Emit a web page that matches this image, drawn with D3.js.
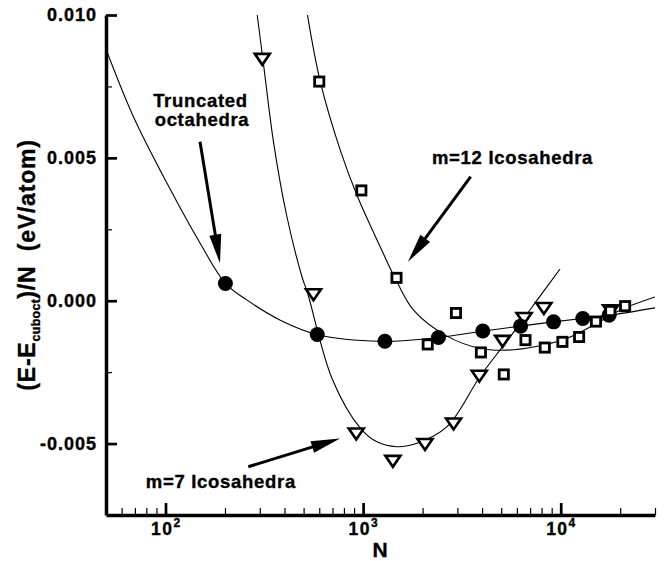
<!DOCTYPE html>
<html>
<head>
<meta charset="utf-8">
<script src="https://cdn.jsdelivr.net/npm/d3@7"></script>
<style>
  body { margin: 0; background: #fff; }
  svg { display: block; }
  text { font-family: "Liberation Sans", Arial, Helvetica, sans-serif; font-weight: bold; fill: #000; stroke: #000; stroke-width: 0.35px; }
</style>
</head>
<body>
<svg width="666" height="561"></svg>
<script>
// truncated octahedra (filled circles)
const octaN = [201, 586, 1289, 2406, 4033, 6266, 9201, 12934, 17561];
const octaE = [0.00060, -0.00118, -0.00142, -0.00129, -0.00106, -0.00089, -0.00074, -0.00062, -0.00051];

// m=7 icosahedra (open triangles)
const ico7N = [309, 561, 923, 1415, 2057, 2869, 3871, 5083, 6525, 8217, 17885];
const ico7E = [0.00843, 0.00019, -0.00468, -0.00564, -0.00505, -0.00433, -0.00266, -0.00144, -0.00064, -0.00029, -0.00037];

// m=12 icosahedra (open squares)
const ico12N = [600, 980, 1476, 2123, 2951, 3946, 5152, 6633, 8305, 10200, 12390, 15080, 17820, 21180];
const ico12E = [0.00767, 0.00386, 0.00080, -0.00153, -0.00043, -0.00181, -0.00258, -0.00138, -0.00164, -0.00144, -0.00127, -0.00073, -0.00036, -0.00019];

// fitted curves
const octaFitN = [50, 69, 102, 150, 201, 259, 381, 585, 1222, 2399, 4006, 6237, 9155, 12840, 17580, 30000];
const octaFitE = [0.0088, 0.00642, 0.00410, 0.00200, 0.00061, 0.00002, -0.00068, -0.00118, -0.00142, -0.00129, -0.00107, -0.00089, -0.00074, -0.00062, -0.00051, -0.00025];
const ico7FitN = [290, 314, 353, 412, 491, 524, 696, 968, 1175, 1483, 1874, 2657, 3900, 5105, 6226, 7859, 9923];
const ico7FitE = [0.0101, 0.00823, 0.00550, 0.00293, 0.00083, 0.00026, -0.00272, -0.00446, -0.00494, -0.00511, -0.00499, -0.00441, -0.00266, -0.00159, -0.00080, 0.00016, 0.00111];
const ico12FitN = [520, 608, 767, 931, 1222, 1483, 1800, 2657, 3917, 5340, 7280, 10740, 14630, 19950, 30000];
const ico12FitE = [0.0101, 0.00765, 0.00526, 0.00369, 0.00188, 0.00066, -0.00033, -0.00124, -0.00167, -0.00173, -0.00162, -0.00132, -0.00086, -0.00033, 0.00013];

// axes
const xMajorTicks = [100, 1000, 10000];
const xMajorExp = ["2", "3", "4"];
const yMajorTicks = [-0.005, 0, 0.005, 0.010];
const yMinorTicks = [-0.0025, 0.0025, 0.0075];

// annotations
const noteText = ["Truncated", "octahedra", "m=12 Icosahedra", "m=7 Icosahedra"];
const noteN = [150.4, 153, 5702, 190.6];
const noteE = [0.00678, 0.00610, 0.00480, -0.00657];
const arrowFromN = [149.5, 3504, 262.4];
const arrowFromE = [0.005565, 0.00434, -0.00581];
const arrowToN = [188.7, 1687, 764];
const arrowToE = [0.00131, 0.001365, -0.00482];

const svg = d3.select('svg');
const padL = 106, padR = 655, padT = 15, padB = 515;

const x = d3.scaleLog().domain([50, 30000]).range([padL, padR]);
const y = d3.scaleLinear().domain([-0.0075, 0.010]).range([padB, padT]);

svg.append('defs').append('clipPath').attr('id', 'plot')
  .append('rect').attr('x', padL).attr('y', padT)
  .attr('width', padR - padL).attr('height', padB - padT);

// curves
const line = d3.line().x(d => x(d[0])).y(d => y(d[1])).curve(d3.curveCatmullRom.alpha(0.5));
const curves = [
  d3.zip(octaFitN, octaFitE),
  d3.zip(ico7FitN, ico7FitE),
  d3.zip(ico12FitN, ico12FitE),
];
svg.append('g').attr('clip-path', 'url(#plot)')
  .selectAll('path').data(curves).enter().append('path')
  .attr('d', line)
  .attr('fill', 'none').attr('stroke', '#000').attr('stroke-width', 1.1);

// markers
svg.append('g').selectAll('path').data(d3.zip(ico7N, ico7E)).enter().append('path')
  .attr('transform', d => `translate(${x(d[0])},${y(d[1])})`)
  .attr('d', 'M-7.5,-6L7.5,-6L0,5Z')
  .attr('fill', '#fff').attr('stroke', '#000').attr('stroke-width', 2.6)
  .attr('stroke-linejoin', 'miter');

svg.append('g').selectAll('circle').data(d3.zip(octaN, octaE)).enter().append('circle')
  .attr('cx', d => x(d[0])).attr('cy', d => y(d[1])).attr('r', 7.5)
  .attr('fill', '#000');

svg.append('g').selectAll('rect').data(d3.zip(ico12N, ico12E)).enter().append('rect')
  .attr('x', d => x(d[0]) - 4.6).attr('y', d => y(d[1]) - 4.6)
  .attr('width', 9.2).attr('height', 9.2)
  .attr('fill', '#fff').attr('stroke', '#000').attr('stroke-width', 2.8);

// x axis
const gx = svg.append('g').attr('transform', `translate(0,${padB})`);
gx.call(d3.axisBottom(x).tickValues(x.ticks().filter(v => v > 50 && !xMajorTicks.includes(v)))
  .tickSize(-7).tickSizeOuter(0).tickFormat(''));
gx.selectAll('.tick line').attr('stroke-width', 1.2);
const gx2 = svg.append('g').attr('transform', `translate(0,${padB})`);
gx2.call(d3.axisBottom(x).tickValues(xMajorTicks).tickSize(-12).tickSizeOuter(0).tickFormat(''));
gx2.selectAll('.tick line').attr('stroke-width', 2.7);
gx.select('.domain').remove();
gx2.select('.domain').attr('stroke-width', 3.5);

const xl = svg.append('g').selectAll('text').data(xMajorTicks).enter().append('text')
  .attr('x', d => x(d)).attr('y', 535).attr('text-anchor', 'middle')
  .style('font-size', '17.5px').style('letter-spacing', '1.5px');
xl.append('tspan').text('10');
xl.append('tspan').attr('dy', -8).style('font-size', '12px').style('letter-spacing', '0px')
  .text((d, i) => xMajorExp[i]);

svg.append('text').attr('x', (x(1000) + 17)).attr('y', 557).attr('text-anchor', 'middle')
  .style('font-size', '21px').text('N');

// y axis
const gy = svg.append('g').attr('transform', `translate(${padL},0)`);
gy.call(d3.axisLeft(y).tickValues(yMinorTicks).tickSize(-6).tickSizeOuter(0).tickFormat(''));
gy.selectAll('.tick line').attr('stroke-width', 1.2);
gy.select('.domain').remove();
const gy2 = svg.append('g').attr('transform', `translate(${padL},0)`);
gy2.call(d3.axisLeft(y).tickValues(yMajorTicks).tickSize(-11).tickSizeOuter(0).tickFormat(''));
gy2.selectAll('.tick line').attr('stroke-width', 2.7);
gy2.select('.domain').attr('stroke-width', 3.5);

svg.append('g').selectAll('text').data(yMajorTicks).enter().append('text')
  .attr('x', 97).attr('y', d => y(d) + 6).attr('text-anchor', 'end')
  .style('font-size', '18px').style('letter-spacing', '1px')
  .text(d => d3.format('.3f')(d).replace('\u2212', '-'));

const yt = svg.append('text').attr('transform', 'translate(35,265) rotate(-90)')
  .attr('text-anchor', 'middle').style('font-size', '23px').style('letter-spacing', '0.8px');
yt.append('tspan').text('(E-E');
yt.append('tspan').attr('dy', 5).style('font-size', '12.5px').style('letter-spacing', '0.3px').text('cuboct');
yt.append('tspan').attr('dy', -5).text(')/N\u00a0\u00a0(eV/atom)');

// annotations
svg.append('g').selectAll('text').data(noteText).enter().append('text')
  .attr('x', (d, i) => x(noteN[i])).attr('y', (d, i) => y(noteE[i]))
  .attr('text-anchor', 'middle')
  .style('font-size', '18.5px').style('letter-spacing', '0.7px')
  .text(d => d);

const ga = svg.append('g');
arrowFromN.forEach((n, i) => {
  const x1 = x(n), y1 = y(arrowFromE[i]);
  const x2 = x(arrowToN[i]), y2 = y(arrowToE[i]);
  const dx = x2 - x1, dy = y2 - y1, L = Math.hypot(dx, dy);
  const ux = dx / L, uy = dy / L, hl = 29, hw = 6;
  const bx = x2 - ux * hl, by = y2 - uy * hl;
  ga.append('line').attr('x1', x1).attr('y1', y1).attr('x2', bx + ux * 3).attr('y2', by + uy * 3)
    .attr('stroke', '#000').attr('stroke-width', 3);
  ga.append('path')
    .attr('d', `M${x2},${y2}L${bx - uy * hw},${by + ux * hw}L${bx + uy * hw},${by - ux * hw}Z`)
    .attr('fill', '#000');
});
</script>
</body>
</html>
